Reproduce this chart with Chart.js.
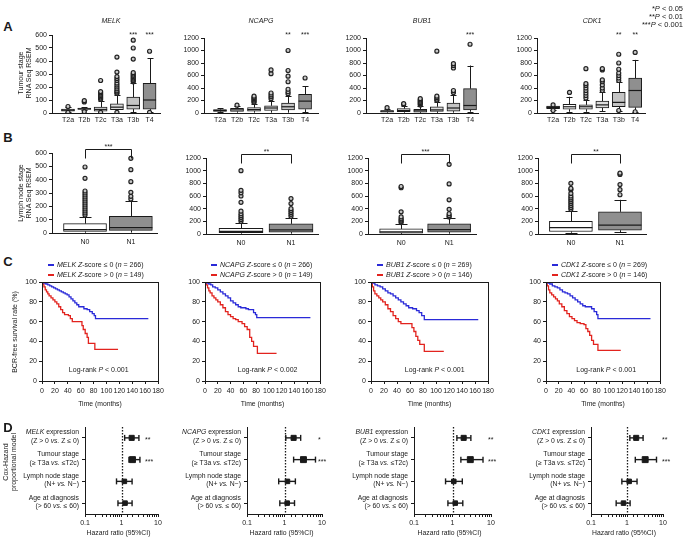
<!DOCTYPE html>
<html>
<head>
<meta charset="utf-8">
<title>MELK, NCAPG, BUB1, CDK1</title>
<script src="https://cdn.jsdelivr.net/npm/chart.js@4.4.1/dist/chart.umd.min.js"></script>
<style>
  body { margin: 0; width: 685px; height: 540px; position: relative; overflow: hidden; background: #fff; color: #1a1a1a; font-family: 'Liberation Sans', Arial, sans-serif; }
  canvas { position: absolute; }
  .t { position: absolute; white-space: nowrap; line-height: 1.15; }
</style>
</head>
<body>
<script>
const genes = ['MELK', 'NCAPG', 'BUB1', 'CDK1'];
const stageLabels = ['T2a', 'T2b', 'T2c', 'T3a', 'T3b', 'T4'];
const nodeLabels = ['N0', 'N1'];

// box values: [min, q1, median, q3, max] for each group
const melkStageBox = [[5, 15, 22, 30, 45], [22, 28, 33, 38, 45], [2, 15, 28, 45, 95], [3, 25, 45, 70, 140], [5, 30, 58, 123, 230], [8, 30, 100, 228, 420]];
const melkStageOut = [[50, 5], [85, 95, 10], [105, 115, 125, 135, 145, 155, 165, 250, 5], [150, 160, 170, 185, 200, 215, 230, 250, 265, 280, 315, 430, 5], [240, 250, 260, 270, 280, 290, 300, 310, 415, 500, 560], [475, 5]];
const melkStageSig = ['', '', '', '', '***', '***'];

const ncapgStageBox = [[10, 25, 40, 55, 75], [5, 25, 50, 75, 110], [5, 30, 55, 85, 150], [5, 40, 80, 115, 200], [5, 50, 100, 160, 280], [10, 60, 190, 300, 430]];
const ncapgStageOut = [[], [125], [170, 190, 210, 230, 250, 270], [230, 260, 290, 320, 630, 690], [310, 340, 380, 500, 590, 680, 1000], [560]];
const ncapgStageSig = ['', '', '', '', '**', '***'];

const bub1StageBox = [[5, 15, 30, 40, 70], [5, 20, 40, 70, 120], [2, 15, 35, 60, 110], [2, 25, 50, 100, 180], [5, 30, 80, 160, 290], [20, 50, 120, 390, 760]];
const bub1StageOut = [[85], [140, 150], [130, 150, 170, 190, 210, 230], [200, 220, 245, 270, 990], [330, 360, 720, 760, 790], [1100]];
const bub1StageSig = ['', '', '', '', '', '***'];

const cdk1StageBox = [[50, 70, 90, 110, 115], [20, 60, 100, 140, 260], [20, 60, 100, 130, 210], [30, 80, 130, 190, 330], [30, 100, 170, 330, 500], [20, 90, 360, 560, 850]];
const cdk1StageOut = [[130, 40], [330], [240, 280, 320, 360, 400, 440, 470, 710], [360, 400, 450, 500, 530, 690, 710], [520, 560, 600, 640, 700, 800, 940, 40], [970, 20]];
const cdk1StageSig = ['', '', '', '', '**', '**'];

const melkNodeBox = [[2, 12, 25, 70, 120], [3, 20, 40, 125, 240]];
const melkNodeOut = [[135, 150, 165, 180, 195, 210, 225, 240, 255, 270, 285, 300, 315, 410, 495], [255, 275, 305, 385, 475, 560]];
const ncapgNodeBox = [[5, 20, 40, 90, 175], [5, 30, 65, 160, 250]];
const ncapgNodeOut = [[200, 230, 260, 290, 320, 360, 500, 600, 650, 690, 1000], [280, 310, 340, 370, 400, 480, 560]];
const bub1NodeBox = [[2, 15, 35, 80, 160], [5, 30, 70, 160, 250]];
const bub1NodeOut = [[180, 200, 220, 240, 270, 350, 730, 750], [270, 290, 320, 390, 540, 790, 1100]];
const cdk1NodeBox = [[20, 40, 100, 200, 370], [30, 60, 140, 350, 540]];
const cdk1NodeOut = [[390, 420, 450, 480, 510, 540, 570, 600, 640, 700, 720, 800], [620, 700, 780, 940, 960]];
const nodeSig = ['***', '**', '***', '**'];

// Kaplan-Meier steps (months, % BCR-free)
const melkLowT = [0, 3, 6, 9, 12, 15, 18, 21, 24, 27, 30, 33, 36, 39, 42, 45, 48, 51, 54, 57, 65, 70, 74, 78, 81, 83, 165];
const melkLowS = [100, 99, 98, 97, 96, 95, 94, 93, 92, 91, 90, 89, 88, 87, 85, 83, 81, 79, 77, 75, 73, 72, 70, 68, 66, 63, 63];
const melkHighT = [0, 1, 3, 5, 7, 9, 11, 14, 17, 20, 23, 26, 29, 32, 35, 41, 44, 47, 62, 64, 67, 70, 72, 82, 118];
const melkHighS = [100, 98, 95, 92, 90, 88, 86, 84, 82, 80, 78, 75, 72, 69, 67, 66, 63, 60, 56, 52, 48, 44, 38, 32, 32];
const ncapgLowT = [0, 3, 6, 9, 12, 16, 20, 24, 28, 32, 36, 40, 44, 48, 52, 56, 64, 68, 72, 76, 79, 81, 165];
const ncapgLowS = [100, 99, 98, 97, 95, 94, 92, 90, 88, 86, 84, 81, 79, 77, 75, 74, 73, 72, 72, 69, 67, 64, 64];
const ncapgHighT = [0, 2, 4, 6, 8, 11, 14, 17, 20, 24, 28, 32, 36, 40, 44, 48, 52, 58, 62, 66, 70, 73, 76, 82, 112];
const ncapgHighS = [100, 97, 94, 91, 89, 86, 84, 82, 80, 77, 74, 70, 67, 65, 63, 62, 60, 58, 55, 52, 44, 40, 35, 28, 28];
const bub1LowT = [0, 3, 6, 10, 14, 18, 22, 26, 30, 34, 38, 42, 46, 50, 54, 58, 64, 70, 74, 78, 82, 165];
const bub1LowS = [100, 99, 97, 96, 95, 93, 91, 89, 88, 86, 84, 82, 80, 78, 76, 74, 73, 71, 69, 66, 62, 62];
const bub1HighT = [0, 2, 4, 6, 9, 12, 15, 18, 22, 26, 30, 34, 38, 42, 46, 60, 63, 66, 69, 72, 75, 82, 112];
const bub1HighS = [100, 95, 91, 88, 86, 84, 82, 80, 77, 73, 70, 66, 63, 60, 58, 58, 54, 50, 45, 41, 37, 30, 30];
const cdk1LowT = [0, 3, 6, 10, 14, 18, 22, 26, 30, 34, 38, 42, 46, 50, 54, 58, 62, 68, 72, 76, 80, 82, 165];
const cdk1LowS = [100, 99, 98, 96, 95, 94, 92, 90, 89, 88, 86, 84, 82, 80, 78, 76, 75, 75, 73, 70, 67, 63, 63];
const cdk1HighT = [0, 2, 4, 6, 9, 12, 15, 18, 21, 25, 29, 33, 37, 41, 45, 49, 54, 60, 63, 66, 69, 72, 75, 82, 118];
const cdk1HighS = [100, 96, 92, 89, 87, 85, 83, 81, 78, 75, 71, 68, 65, 63, 61, 59, 58, 57, 53, 50, 46, 41, 37, 31, 31];
const kmLowN = [266, 266, 269, 269];
const kmHighN = [149, 149, 146, 146];
const logRankP = ['0.001', '0.002', '0.001', '0.001'];

// Cox model: expression, tumour stage, lymph node stage, age
const melkHR = [1.9, 2.0, 1.2, 1.25];
const melkLo = [1.22, 1.6, 0.73, 0.8];
const melkHi = [3.0, 3.2, 1.95, 1.95];
const melkCoxSig = ['**', '***', '', ''];
const ncapgHR = [1.75, 3.2, 1.2, 1.18];
const ncapgLo = [1.08, 1.75, 0.7, 0.75];
const ncapgHi = [2.7, 6.7, 1.95, 1.85];
const ncapgCoxSig = ['*', '***', '', ''];
const bub1HR = [1.95, 2.9, 1.08, 1.18];
const bub1Lo = [1.3, 1.65, 0.66, 0.76];
const bub1Hi = [3.0, 6.2, 1.8, 1.85];
const bub1CoxSig = ['**', '***', '', ''];
const cdk1HR = [1.8, 3.2, 1.15, 0.8];
const cdk1Lo = [1.2, 1.7, 0.72, 0.5];
const cdk1Hi = [2.8, 6.6, 1.9, 1.22];
const cdk1CoxSig = ['**', '***', '', ''];

const coxTitles = ['expression', 'Tumour stage', 'Lymph node stage', 'Age at diagnosis'];
const coxLeft = ['(Z > 0 ', '(\u2265 T3a ', '(N+ ', '(> 60 '];
const coxRight = [' Z \u2264 0)', ' \u2264T2c)', ' N\u2212)', ' \u2264 60)'];

const stageBoxes = [melkStageBox, ncapgStageBox, bub1StageBox, cdk1StageBox];
const stageOuts = [melkStageOut, ncapgStageOut, bub1StageOut, cdk1StageOut];
const stageSigs = [melkStageSig, ncapgStageSig, bub1StageSig, cdk1StageSig];
const nodeBoxes = [melkNodeBox, ncapgNodeBox, bub1NodeBox, cdk1NodeBox];
const nodeOuts = [melkNodeOut, ncapgNodeOut, bub1NodeOut, cdk1NodeOut];
const kmLow = [[melkLowT, melkLowS], [ncapgLowT, ncapgLowS], [bub1LowT, bub1LowS], [cdk1LowT, cdk1LowS]];
const kmHigh = [[melkHighT, melkHighS], [ncapgHighT, ncapgHighS], [bub1HighT, bub1HighS], [cdk1HighT, cdk1HighS]];
const coxHR = [melkHR, ncapgHR, bub1HR, cdk1HR];
const coxLo = [melkLo, ncapgLo, bub1Lo, cdk1Lo];
const coxHi = [melkHi, ncapgHi, bub1Hi, cdk1Hi];
const coxSig = [melkCoxSig, ncapgCoxSig, bub1CoxSig, cdk1CoxSig];
const yMax = [600, 1200, 1200, 1200];

// layout of each plot area on the page
const stageArea = [
  { l: 52, r: 160, t: 35, b: 113, x0: 0.02, x1: 6.64, sy: 33 },
  { l: 204, r: 318, t: 38, b: 113, x0: 0.06, x1: 6.76, sy: 33 },
  { l: 366, r: 478, t: 38, b: 113, x0: -0.27, x1: 6.48, sy: 33 },
  { l: 537, r: 645, t: 38, b: 113, x0: 0.02, x1: 6.6, sy: 33 }
];
const nodeArea = [
  { l: 52, r: 157, t: 153, b: 233, x0: 0.28, x1: 2.57, bw: 43 },
  { l: 206, r: 318, t: 158, b: 234, x0: 0.3, x1: 2.54, bw: 44 },
  { l: 368, r: 476, t: 158, b: 234, x0: 0.31, x1: 2.56, bw: 43 },
  { l: 538, r: 646, t: 158, b: 234, x0: 0.33, x1: 2.53, bw: 43 }
];
const kmArea = [
  { l: 42, r: 158, t: 282, b: 381, lr: 88 },
  { l: 205, r: 320, t: 282, b: 381, lr: 98 },
  { l: 371, r: 488, t: 282, b: 381, lr: 98 },
  { l: 546, r: 660, t: 282, b: 381, lr: 95 }
];
const coxArea = [
  { l: 85, r: 158, t: 427, b: 514, sx: 4.4 },
  { l: 247, r: 322, t: 427, b: 514, sx: 7.8 },
  { l: 414, r: 491, t: 427, b: 514, sx: 8.4 },
  { l: 591, r: 663, t: 427, b: 514, sx: 9.4 }
];

const FONT = "'Liberation Sans', Arial, sans-serif";
const INK = '#1a1a1a';
const BLUE = '#2a2ad8';
const RED = '#e2231e';
const STAGE_FILL = ['#9c9c9c', '#ffffff', '#f3f3f3', '#dcdcdc', '#c4c4c4', '#8f8f8f'];
const NODE_FILL = ['#ffffff', '#8f8f8f'];
const tickFont = { family: FONT, size: 7 };

function makeCanvas(a, m) {
  const c = document.createElement('canvas');
  c.width = a.r - a.l + m.l + m.r;
  c.height = a.b - a.t + m.t + m.b;
  c.style.left = (a.l - m.l) + 'px';
  c.style.top = (a.t - m.t) + 'px';
  document.body.appendChild(c);
  return c;
}

function baseOptions(m) {
  return {
    responsive: false,
    animation: false,
    events: [],
    layout: { padding: { left: 0, top: m.t, right: m.r, bottom: 0 } },
    plugins: { legend: { display: false }, tooltip: { enabled: false } }
  };
}

function yScale(min, max, step, m) {
  return {
    type: 'linear', min: min, max: max,
    afterFit: s => { s.width = m.l; },
    border: { color: INK, width: 1 },
    grid: { drawOnChartArea: false, color: INK, tickLength: 3 },
    ticks: { stepSize: step, color: INK, font: tickFont, padding: 2, callback: v => String(v) }
  };
}

// text with italic pieces: segs = [[text, italic], ...]
function rich(ctx, segs, x, y, align, size) {
  const fonts = segs.map(s => (s[1] ? 'italic ' : '') + size + 'px ' + FONT);
  const widths = segs.map((s, i) => { ctx.font = fonts[i]; return ctx.measureText(s[0]).width; });
  const total = widths.reduce((p, w) => p + w, 0);
  let cx = align === 'right' ? x - total : align === 'center' ? x - total / 2 : x;
  ctx.textAlign = 'left';
  segs.forEach((s, i) => { ctx.font = fonts[i]; ctx.fillText(s[0], cx, y); cx += widths[i]; });
}

function label(html, x, y, size, mode, extra) {
  const d = document.createElement('div');
  d.className = 't';
  d.innerHTML = html;
  d.style.left = x + 'px';
  d.style.top = y + 'px';
  d.style.fontSize = size + 'px';
  if (mode === 'rot') {
    d.style.transform = 'translate(-50%, -50%) rotate(-90deg)';
    d.style.textAlign = 'center';
  } else if (mode === 'right') {
    d.style.transform = 'translate(-100%, -50%)';
    d.style.textAlign = 'right';
  } else {
    d.style.transform = 'translate(-50%, -50%)';
  }
  Object.assign(d.style, extra || {});
  document.body.appendChild(d);
}

// whiskers, caps and medians for the box plots
function boxParts(box, barW, capW, marks) {
  return {
    id: 'boxParts',
    beforeDatasetsDraw(chart) {
      const { ctx, scales: { x, y } } = chart;
      ctx.save();
      ctx.strokeStyle = INK;
      ctx.lineWidth = 1;
      const line = (x1, y1, x2, y2) => { ctx.beginPath(); ctx.moveTo(x1, y1); ctx.lineTo(x2, y2); ctx.stroke(); };
      box.forEach((s, i) => {
        const px = Math.round(x.getPixelForValue(i + 1)) + 0.5;
        line(px, y.getPixelForValue(s[3]), px, y.getPixelForValue(s[4]));
        line(px, y.getPixelForValue(s[1]), px, y.getPixelForValue(s[0]));
        [s[0], s[4]].forEach(v => {
          const py = Math.round(y.getPixelForValue(v)) + 0.5;
          line(px - capW, py, px + capW, py);
        });
      });
      ctx.restore();
    },
    afterDatasetsDraw(chart) {
      const { ctx, scales: { x, y } } = chart;
      ctx.save();
      ctx.strokeStyle = INK;
      ctx.lineWidth = 1.2;
      box.forEach((s, i) => {
        const px = x.getPixelForValue(i + 1);
        const py = y.getPixelForValue(s[2]);
        ctx.beginPath(); ctx.moveTo(px - barW / 2, py); ctx.lineTo(px + barW / 2, py); ctx.stroke();
      });
      marks(chart);
      ctx.restore();
    }
  };
}

function boxChart(a, box, out, labels, fills, ymax, barW, capW, pad, marks) {
  const m = { l: 30, t: 14, r: 6, b: 14 };
  const c = makeCanvas(a, m);
  const pos = labels.map((_, i) => i + 1);
  const opts = baseOptions(m);
  opts.scales = {
    x: {
      type: 'linear', min: a.x0, max: a.x1, offset: false,
      afterFit: s => { s.height = m.b; },
      afterBuildTicks: s => { s.ticks = pos.map(v => ({ value: v })); },
      border: { color: INK, width: 1 },
      grid: { display: false, drawTicks: false, offset: false },
      ticks: { autoSkip: false, maxRotation: 0, color: INK, font: tickFont, padding: pad, callback: v => labels[v - 1] }
    },
    y: yScale(0, ymax, ymax / 6, m)
  };
  new Chart(c, {
    type: 'bar',
    data: {
      datasets: [
        {
          type: 'bar',
          data: box.map((s, i) => ({ x: pos[i], y: [s[1], s[3]] })),
          backgroundColor: fills, borderColor: INK, borderWidth: 1, borderSkipped: false,
          barThickness: barW, grouped: false, order: 2
        },
        {
          type: 'scatter',
          data: out.flatMap((o, i) => o.map(v => ({ x: pos[i], y: v }))),
          pointRadius: 2, pointBorderWidth: 1.2, pointBorderColor: '#222', pointBackgroundColor: '#c8c8c8', order: 1
        }
      ]
    },
    options: opts,
    plugins: [boxParts(box, barW, capW, marks)]
  });
}

function kmChart(a, gi) {
  const m = { l: 28, t: 26, r: 12, b: 14 };
  const c = makeCanvas(a, m);
  const opts = baseOptions(m);
  opts.scales = {
    x: {
      type: 'linear', min: 0, max: 180,
      afterFit: s => { s.height = m.b; },
      border: { color: INK, width: 1 },
      grid: { drawOnChartArea: false, color: INK, tickLength: 3 },
      ticks: { stepSize: 20, autoSkip: false, maxRotation: 0, color: INK, font: tickFont, padding: 3 }
    },
    y: yScale(0, 100, 20, m)
  };
  const steps = (t, s) => t.map((v, i) => ({ x: v, y: s[i] }));
  new Chart(c, {
    type: 'line',
    data: {
      datasets: [
        { data: steps(kmLow[gi][0], kmLow[gi][1]), borderColor: BLUE, borderWidth: 1.3, stepped: true, pointRadius: 0, fill: false },
        { data: steps(kmHigh[gi][0], kmHigh[gi][1]), borderColor: RED, borderWidth: 1.3, stepped: true, pointRadius: 0, fill: false }
      ]
    },
    options: opts,
    plugins: [{
      id: 'kmParts',
      afterDraw(chart) {
        const { ctx, chartArea: ca, scales: { x, y } } = chart;
        ctx.save();
        ctx.strokeStyle = INK;
        ctx.lineWidth = 1;
        ctx.strokeRect(Math.round(ca.left) + 0.5, Math.round(ca.top) + 0.5, Math.round(ca.right - ca.left), Math.round(ca.bottom - ca.top));
        const lx = ca.left + 6;
        [[BLUE, '-score \u2264 0 (', kmLowN[gi], -17], [RED, '-score > 0 (', kmHighN[gi], -7]].forEach(([col, mid, n, dy]) => {
          const yy = ca.top + dy;
          ctx.strokeStyle = col;
          ctx.lineWidth = 2;
          ctx.beginPath(); ctx.moveTo(lx, yy); ctx.lineTo(lx + 6, yy); ctx.stroke();
          ctx.fillStyle = INK;
          ctx.textBaseline = 'middle';
          rich(ctx, [[genes[gi], true], [' ', false], ['Z', true], [mid, false], ['n', true], [' = ' + n + ')', false]], lx + 9, yy, 'left', 7);
        });
        ctx.fillStyle = INK;
        ctx.textBaseline = 'middle';
        rich(ctx, [['Log-rank ', false], ['P', true], [' < ' + logRankP[gi], false]], x.getPixelForValue(a.lr), y.getPixelForValue(11), 'center', 7);
        ctx.restore();
      }
    }]
  });
}

function coxChart(a, gi) {
  const m = { l: 86, t: 6, r: 22, b: 14 };
  const c = makeCanvas(a, m);
  const rows = [0, 1, 2, 3];
  const hr = coxHR[gi], lo = coxLo[gi], hi = coxHi[gi], sig = coxSig[gi];
  const opts = baseOptions(m);
  opts.scales = {
    x: {
      type: 'logarithmic', min: 0.1, max: 10,
      afterFit: s => { s.height = m.b; },
      border: { color: INK, width: 1 },
      grid: { drawOnChartArea: false, color: INK, tickLength: 3 },
      ticks: {
        autoSkip: false, maxRotation: 0, color: INK, font: tickFont, padding: 2.3,
        callback: v => {
          const l = Math.log10(v);
          if (Math.abs(l - Math.round(l)) > 1e-6) return '';
          return v < 1 ? '0.1' : String(Math.round(v));
        }
      }
    },
    y: {
      type: 'linear', min: 0.5, max: 4.5, reverse: true,
      afterFit: s => { s.width = m.l; },
      afterBuildTicks: s => { s.ticks = rows.map(r => ({ value: r + 1 })); },
      border: { color: INK, width: 1 },
      grid: { drawOnChartArea: false, color: INK, tickLength: 3 },
      ticks: { display: false }
    }
  };
  const ciSets = rows.map(r => ({
    type: 'line',
    data: [{ x: lo[r], y: r + 1 }, { x: hi[r], y: r + 1 }],
    borderColor: INK, borderWidth: 1.4,
    pointStyle: 'line', rotation: 90, pointRadius: 3, pointBorderWidth: 1.4, pointBorderColor: INK
  }));
  new Chart(c, {
    type: 'scatter',
    data: {
      datasets: ciSets.concat([{
        type: 'scatter',
        data: hr.map((v, r) => ({ x: v, y: r + 1 })),
        pointStyle: 'rect', pointRadius: [3.6, 4.2, 3.2, 3.2],
        pointBackgroundColor: INK, pointBorderColor: INK, pointBorderWidth: 1
      }])
    },
    options: opts,
    plugins: [{
      id: 'coxParts',
      beforeDatasetsDraw(chart) {
        const { ctx, chartArea: ca, scales: { x } } = chart;
        const px = Math.round(x.getPixelForValue(1)) + 0.5;
        ctx.save();
        ctx.strokeStyle = INK;
        ctx.lineWidth = 1.3;
        ctx.setLineDash([1.5, 1.5]);
        ctx.beginPath(); ctx.moveTo(px, ca.top); ctx.lineTo(px, ca.bottom); ctx.stroke();
        ctx.restore();
      },
      afterDraw(chart) {
        const { ctx, chartArea: ca, scales: { x, y } } = chart;
        ctx.save();
        ctx.fillStyle = INK;
        ctx.textBaseline = 'middle';
        rows.forEach(r => {
          const py = y.getPixelForValue(r + 1);
          const tx = ca.left - 6;
          const head = r === 0 ? [[genes[gi], true], [' ' + coxTitles[r], false]] : [[coxTitles[r], false]];
          rich(ctx, head, tx, py - 5.5, 'right', 6.8);
          rich(ctx, [[coxLeft[r], false], ['vs.', true], [coxRight[r], false]], tx, py + 3, 'right', 6.8);
          if (sig[r]) {
            ctx.font = '7px ' + FONT;
            ctx.textAlign = 'left';
            ctx.textBaseline = 'alphabetic';
            ctx.fillText(sig[r], x.getPixelForValue(a.sx), py + 4);
            ctx.textBaseline = 'middle';
          }
        });
        ctx.restore();
      }
    }]
  });
}

// row A: tumour stage
genes.forEach((g, gi) => {
  const a = stageArea[gi];
  const sig = stageSigs[gi];
  boxChart(a, stageBoxes[gi], stageOuts[gi], stageLabels, STAGE_FILL, yMax[gi], 13, 3, 3.3, chart => {
    const { ctx, scales: { x } } = chart;
    ctx.fillStyle = INK;
    ctx.font = '7px ' + FONT;
    ctx.textAlign = 'center';
    ctx.textBaseline = 'alphabetic';
    const base = chart.chartArea.top + (a.sy - a.t) + 4;
    sig.forEach((s, i) => { if (s) ctx.fillText(s, x.getPixelForValue(i + 1), base); });
  });
});

// row B: lymph node stage
genes.forEach((g, gi) => {
  const a = nodeArea[gi];
  boxChart(a, nodeBoxes[gi], nodeOuts[gi], nodeLabels, NODE_FILL, yMax[gi], a.bw, 6, 5.3, chart => {
    const { ctx, scales: { x } } = chart;
    const x1 = Math.round(x.getPixelForValue(1)) + 0.5;
    const x2 = Math.round(x.getPixelForValue(2)) + 0.5;
    const yb = Math.round(chart.chartArea.top - 4) + 0.5;
    ctx.strokeStyle = INK;
    ctx.lineWidth = 1;
    ctx.beginPath(); ctx.moveTo(x1, yb + 9); ctx.lineTo(x1, yb); ctx.lineTo(x2, yb); ctx.lineTo(x2, yb + 9); ctx.stroke();
    ctx.fillStyle = INK;
    ctx.font = '7px ' + FONT;
    ctx.textAlign = 'center';
    ctx.textBaseline = 'alphabetic';
    ctx.fillText(nodeSig[gi], (x1 + x2) / 2, yb - 1);
  });
});

// row C and D
genes.forEach((g, gi) => kmChart(kmArea[gi], gi));
genes.forEach((g, gi) => coxChart(coxArea[gi], gi));

// texts around the plots
[['A', 27], ['B', 138], ['C', 262], ['D', 428]].forEach(([s, y]) => label('<b>' + s + '</b>', 8, y, 13));
const titleX = [111, 261, 422, 592];
genes.forEach((g, gi) => label('<i>' + g + '</i>', titleX[gi], 21, 7));
label('*<i>P</i> &lt; 0.05', 683, 9, 7.5, 'right');
label('**<i>P</i> &lt; 0.01', 683, 17, 7.5, 'right');
label('***<i>P</i> &lt; 0.001', 683, 25, 7.5, 'right');
label('Tumour stage<br>RNA Seq RSEM', 25, 73, 7, 'rot');
label('Lymph node stage<br>RNA Seq RSEM', 25, 193, 7, 'rot');
label('BCR-free survival rate (%)', 15, 332, 7, 'rot');
label('Cox-Hazard<br>proportional model', 10, 462, 7, 'rot');
kmArea.forEach(a => label('Time (months)', (a.l + a.r) / 2, 404, 6.8));
coxArea.forEach(a => label('Hazard ratio (95%CI)', (a.l + a.r) / 2 - 3, 533, 6.8));
</script>
</body>
</html>
